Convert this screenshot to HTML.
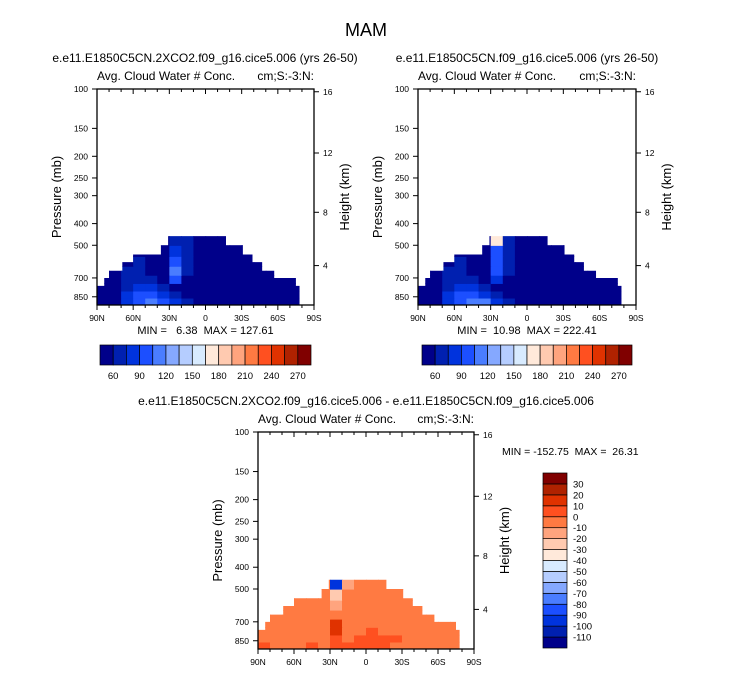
<!DOCTYPE html>
<html><head><meta charset="utf-8">
<style>
body{margin:0;background:#fff;}
svg{display:block;font-family:"Liberation Sans",Arial,sans-serif;}
text{white-space:pre;}
</style></head>
<body>
<svg id="chart" width="733" height="673" viewBox="0 0 733 673">
<text x="366" y="36" text-anchor="middle" font-size="18">MAM</text>
<g id="root"></g>
</svg>
<script>
// ---- data ----
const latCenters = [85,75,65,55,45,35,25,15,5,-5,-15,-25,-35,-45,-55,-65,-75];
const presEdges = [925,860,800,740,680,620,560,500,450];
// mask: latitude edges and top pressure of the data region per segment
const maskLatEdges = [90,84,80,69,60,37,31,-17,-31,-39,-47,-57,-75,-78];
const maskTops = [760,700,650,595,550,500,455,500,550,595,650,700,760];
// rows from bottom (925-860) upward
const valuesP1 = [
 [40,45,85,100,110,100,80,60,40,40,40,40,50,55,45,40,40],
 [40,45,80,90,95,80,65,55,40,40,40,40,40,45,40,40,40],
 [40,45,70,80,75,60,45,50,40,40,40,40,40,40,40,40,40],
 [40,45,65,70,65,45,90,55,40,40,40,40,40,40,40,40,40],
 [40,40,62,62,55,45,110,65,40,40,40,40,40,40,40,40,40],
 [40,40,55,62,55,50,95,60,40,40,40,40,40,40,40,40,40],
 [40,40,40,40,40,55,80,60,40,40,40,40,40,40,40,40,40],
 [40,40,40,40,40,40,70,60,40,40,40,40,40,40,40,40,40]];
const valuesP2 = [
 [40,45,85,100,115,105,85,60,40,40,40,40,50,55,45,40,40],
 [40,45,80,90,95,80,65,55,40,40,40,40,40,45,40,40,40],
 [40,45,70,80,75,60,45,50,40,40,40,40,40,40,40,40,40],
 [40,45,65,70,65,45,85,55,40,40,40,40,40,40,40,40,40],
 [40,40,62,62,55,45,100,65,40,40,40,40,40,40,40,40,40],
 [40,40,55,62,55,50,95,60,40,40,40,40,40,40,40,40,40],
 [40,40,40,40,40,55,90,60,40,40,40,40,40,40,40,40,40],
 [40,40,40,40,40,40,170,65,40,40,40,40,40,40,40,40,40]];
const valuesP3 = [
 [5,-5,-5,-5,5,-5,5,5,5,5,5,-5,-5,-5,-5,-5,-5],
 [-5,-5,-5,-5,-5,-5,5,-5,5,5,5,5,-5,-5,-5,-5,-5],
 [-5,-5,-5,-5,-5,-5,15,-5,-5,5,-5,-5,-5,-5,-5,-5,-5],
 [-5,-5,-5,-5,-5,-5,15,-5,-5,-5,-5,-5,-5,-5,-5,-5,-5],
 [-5,-5,-5,-5,-5,-5,-5,-5,-5,-5,-5,-5,-5,-5,-5,-5,-5],
 [-5,-5,-5,-5,-5,-5,-15,-5,-5,-5,-5,-5,-5,-5,-5,-5,-5],
 [-5,-5,-5,-5,-5,-5,-25,-5,-5,-5,-5,-5,-5,-5,-5,-5,-5],
 [-5,-5,-5,-5,-5,-5,-100,-15,-5,-5,-5,-5,-5,-5,-5,-5,-5]];
const levels12 = [60,75,90,105,120,135,150,165,180,195,210,225,240,255,270];
const cbLabels12 = [60,90,120,150,180,210,240,270];
const levels3 = [-110,-100,-90,-80,-70,-60,-50,-40,-30,-20,-10,0,10,20,30];
const colors = ["#00008a","#0020b0","#0033dd","#1c4fff","#4a7dff","#85a8ff","#b5cdff","#d8ebff","#ffe9da","#ffcab0","#ffa47e","#ff7a42","#ff5020","#e03200","#b02200","#800000"];
const presTicks = [100,150,200,250,300,400,500,700,850];
const heightTicks = [4,8,12,16];
const latTicks = [90,60,30,0,-30,-60,-90];
const latLabels = ["90N","60N","30N","0","30S","60S","90S"];
const NS="http://www.w3.org/2000/svg";
const root=document.getElementById('root');
function el(tag,attrs,parent,txt){const e=document.createElementNS(NS,tag);for(const k in attrs)e.setAttribute(k,attrs[k]);if(txt!==undefined)e.textContent=txt;(parent||root).appendChild(e);return e;}
function colorFor(v,lv){let i=0;while(i<lv.length&&v>=lv[i])i++;return colors[i];}
function pFromZ(z){const m=z*1000;if(m<=11000)return 1013.25*Math.pow(1-2.25577e-5*m,5.25588);return 226.32*Math.exp(-(m-11000)/6341.6);}
const pTop=100,pBot=925;
function drawPanel(id,ox,oy,W,H,vals,lv,minmaxTxt){
  const g=el('g',{},root);
  
  
  const xS=lat=>ox+(90-lat)/180*W;
  const yS=p=>oy+Math.log10(p/pTop)/Math.log10(pBot/pTop)*H;
  const cp=el('clipPath',{id:id+'-clip'},g);
  let d='M'+xS(maskLatEdges[0])+','+yS(pBot);
  for(let i=0;i<maskTops.length;i++){d+=' L'+xS(maskLatEdges[i])+','+yS(maskTops[i])+' L'+xS(maskLatEdges[i+1])+','+yS(maskTops[i]);}
  d+=' L'+xS(maskLatEdges[maskLatEdges.length-1])+','+yS(pBot)+' Z';
  el('path',{d:d},cp);
  const cg=el('g',{'clip-path':'url(#'+id+'-clip)'},g);
  
  
  for(let r=0;r<vals.length;r++){for(let c=0;c<latCenters.length;c++){
    const x0=xS(latCenters[c]+5),x1=xS(latCenters[c]-5),y0=yS(presEdges[r+1]),y1=yS(presEdges[r]);
    const rc=el('rect',{x:x0,y:y0,width:x1-x0+0.6,height:y1-y0+0.6,fill:colorFor(vals[r][c],lv)},cg);
    
    
  }}
  const fr=el('rect',{x:ox,y:oy,width:W,height:H,fill:'none',stroke:'#000','stroke-width':1.3},g);
  
  
  presTicks.forEach(p=>{const y=yS(p);el('line',{x1:ox-5,x2:ox,y1:y,y2:y,stroke:'#000'},g);
    const t=el('text',{x:ox-9,y:y+3,'text-anchor':'end','font-size':8.5},g,String(p));
    });
  heightTicks.forEach(z=>{const y=yS(pFromZ(z));el('line',{x1:ox+W,x2:ox+W+5,y1:y,y2:y,stroke:'#000'},g);
    const t=el('text',{x:ox+W+9,y:y+3,'font-size':8.5},g,String(z));
    });
  for(let L=90;L>=-90;L-=10){const x=xS(L),maj=L%30===0;
    el('line',{x1:x,x2:x,y1:oy+H,y2:oy+H+(maj?5:3),stroke:'#000'},g);
    el('line',{x1:x,x2:x,y1:oy,y2:oy+(maj?5:3),stroke:'#000'},g);}
  latTicks.forEach((L,i)=>{const t=el('text',{x:xS(L),y:oy+H+16,'text-anchor':'middle','font-size':8.5},g,latLabels[i]);
    });
  const yl=el('text',{transform:'translate('+(ox-36)+','+(oy+H/2)+') rotate(-90)','text-anchor':'middle','font-size':13},g,'Pressure (mb)');
  
  const yr=el('text',{transform:'translate('+(ox+W+35)+','+(oy+H/2)+') rotate(-90)','text-anchor':'middle','font-size':13},g,'Height (km)');
  
  const lt=el('text',{x:ox,y:oy-9,'font-size':12},g,'Avg. Cloud Water # Conc.');
  
  const rt=el('text',{x:ox+W,y:oy-9,'text-anchor':'end','font-size':12},g,'cm;S:-3:N:');
  
  if(minmaxTxt){const m=el('text',{x:ox+W/2,y:oy+H+29,'text-anchor':'middle','font-size':11},g,minmaxTxt);
    }
  return g;
}
function hColorbar(x,y,w,h,labels){
  const g=el('g',{},root);
  
  
  const bw=w/colors.length;
  colors.forEach((c,i)=>{el('rect',{x:x+i*bw,y:y,width:bw,height:h,fill:c,stroke:'#000','stroke-width':0.7},g);});
  labels.forEach(v=>{const i=levels12.indexOf(v)+1;const t=el('text',{x:x+i*bw,y:y+h+14,'text-anchor':'middle','font-size':9.5},g,String(v));
    });
}
function vColorbar(x,y,w,h){
  const g=el('g',{},root);
  
  
  const bh=h/colors.length;
  colors.forEach((c,i)=>{el('rect',{x:x,y:y+h-(i+1)*bh,width:w,height:bh,fill:c,stroke:'#000','stroke-width':0.7},g);});
  levels3.forEach((v,i)=>{const t=el('text',{x:x+w+6,y:y+h-(i+1)*bh+3.5,'font-size':9.5},g,String(v));
    });
}
const t1=el('text',{x:205,y:62,'text-anchor':'middle','font-size':12},root,'e.e11.E1850C5CN.2XCO2.f09_g16.cice5.006 (yrs 26-50)');

const t2=el('text',{x:527,y:62,'text-anchor':'middle','font-size':12},root,'e.e11.E1850C5CN.f09_g16.cice5.006 (yrs 26-50)');

const t3=el('text',{x:366,y:405,'text-anchor':'middle','font-size':12},root,'e.e11.E1850C5CN.2XCO2.f09_g16.cice5.006 - e.e11.E1850C5CN.f09_g16.cice5.006');

drawPanel('panel-2xco2',97,89,217,216,valuesP1,levels12,'MIN =   6.38  MAX = 127.61');
drawPanel('panel-control',418,89,218,216,valuesP2,levels12,'MIN =  10.98  MAX = 222.41');
drawPanel('panel-difference',258,432,216,217,valuesP3,levels3,null);
hColorbar(100,345,211,20,cbLabels12);
hColorbar(422,345,210,20,cbLabels12);
vColorbar(543,473,24,175);
const mm=el('text',{x:502,y:455,'font-size':10.5},root,'MIN = -152.75  MAX =  26.31');

</script>
</body></html>
